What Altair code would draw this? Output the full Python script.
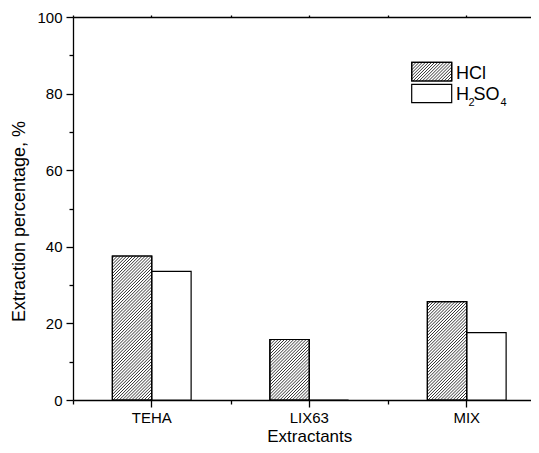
import altair as alt
import pandas as pd

# ---- data ----
extractants = ["TEHA", "LIX63", "MIX"]
acids = ["HCl", "H2SO4"]
hcl_values = [37.6, 15.8, 25.7]
h2so4_values = [33.6, 0.0, 17.6]
y_major = [0, 20, 40, 60, 80, 100]
y_minor = [10, 30, 50, 70, 90]

# ---- layout / style ----
PLOT_W = 458
PLOT_H = 383
BAND = 157.5
RANGE_W = BAND * len(extractants)
BAR_W = BAND / 4
PX_PER_UNIT = PLOT_H / 100.0
HATCH_P = 3.1          # horizontal spacing of hatch lines, px
FONT = "Liberation Sans"
INK = "#1a1a1a"


def hatch_lines(w, h, P=HATCH_P):
    """'////' lines inside a w x h box, local coords (u right, z up), px."""
    out = []
    c = -w + P / 2
    while c < h:
        u0 = max(0.0, -c)
        u1 = min(w, h - c)
        if u1 > u0:
            out.append((u0, u0 + c, u1, u1 + c))
        c += P
    return out


# hatch texture of the HCl bars, expressed in data units (category index, %)
hx, hy, hx2, hy2 = [], [], [], []
for i, v in enumerate(hcl_values):
    left = i + 0.25  # HCl bar occupies the second quarter of its band
    for u0, z0, u1, z1 in hatch_lines(BAR_W, v * PX_PER_UNIT):
        hx.append(left + u0 / BAND)
        hy.append(z0 / PX_PER_UNIT)
        hx2.append(left + u1 / BAND)
        hy2.append(z1 / PX_PER_UNIT)
hatch_df = pd.DataFrame({"hx": hx, "hy": hy, "hx2": hx2, "hy2": hy2})

df = pd.DataFrame({
    "Extractant": extractants * 2,
    "Acid": [acids[0]] * len(extractants) + [acids[1]] * len(extractants),
    "Value": hcl_values + h2so4_values,
})

x_scale = alt.Scale(domain=extractants, range=[0, RANGE_W], paddingInner=0, paddingOuter=0)
off_scale = alt.Scale(domain=acids, paddingInner=0, paddingOuter=1)
y_scale = alt.Scale(domain=[0, 100], nice=False)
hx_scale = alt.Scale(domain=[0, len(extractants)], range=[0, RANGE_W], nice=False, zero=False)

base = alt.Chart(df)

bars = base.mark_bar(fill="white", stroke="black", strokeWidth=1.2).encode(
    x=alt.X("Extractant:N", scale=x_scale, axis=alt.Axis(
        title="Extractants", orient="bottom", tickBand="center", tickSize=7,
        labelAngle=0, labelBaseline="alphabetic", labelPadding=15,
        titleX=RANGE_W / 2, titleY=41, titleBaseline="alphabetic", titleFontSize=17)),
    xOffset=alt.XOffset("Acid:N", scale=off_scale),
    y=alt.Y("Value:Q", scale=y_scale, axis=alt.Axis(
        values=y_major, tickSize=7, orient="left", labelPadding=4,
        title="Extraction percentage, %", titleX=-49, titleY=204,
        titleBaseline="alphabetic")),
)

hatch = alt.Chart(hatch_df).mark_rule(color=INK, strokeWidth=0.9).encode(
    x=alt.X("hx:Q", scale=hx_scale, axis=None),
    x2="hx2:Q",
    y=alt.Y("hy:Q", scale=y_scale, axis=None),
    y2="hy2:Q",
)

outline = base.transform_filter(alt.datum.Acid == acids[0]).mark_bar(
    fill=None, filled=False, stroke="black", strokeWidth=1.2
).encode(
    x=alt.X("Extractant:N", scale=x_scale, axis=None),
    xOffset=alt.XOffset("Acid:N", scale=off_scale),
    y=alt.Y("Value:Q", scale=y_scale, axis=None),
)

minor = base.mark_bar(opacity=0).encode(
    x=alt.X("Extractant:N", scale=x_scale, axis=alt.Axis(
        orient="bottom", title=None, labels=False, tickBand="extent", tickSize=4, domain=False)),
    y=alt.Y("Value:Q", scale=y_scale, axis=alt.Axis(
        values=y_minor, orient="left", title=None, labels=False, tickSize=4, domain=False)),
)

top1 = base.mark_bar(opacity=0).encode(
    x=alt.X("Extractant:N", scale=x_scale, axis=alt.Axis(
        orient="top", title=None, labels=False, tickBand="center", tickSize=2, domain=True)),
    y=alt.Y("Value:Q", scale=y_scale, axis=None),
)
top2 = base.mark_bar(opacity=0).encode(
    x=alt.X("Extractant:N", scale=x_scale, axis=alt.Axis(
        orient="top", title=None, labels=False, tickBand="extent", tickSize=2, domain=False)),
    y=alt.Y("Value:Q", scale=y_scale, axis=None),
)

# ---- legend (drawn by hand, pixel positions inside the plot) ----
LEG_X0, LEG_X1 = 338.7, 378.7
HCL_Y0, HCL_Y1 = 45.3, 64.0
SUL_Y0, SUL_Y1 = 67.3, 85.7

lx, ly, lx2, ly2 = [], [], [], []
for u0, z0, u1, z1 in hatch_lines(LEG_X1 - LEG_X0, HCL_Y1 - HCL_Y0):
    lx.append(LEG_X0 + u0)
    ly.append(HCL_Y1 - z0)
    lx2.append(LEG_X0 + u1)
    ly2.append(HCL_Y1 - z1)
leg_hatch_df = pd.DataFrame({"lx": lx, "ly": ly, "lx2": lx2, "ly2": ly2})

one = alt.Chart(pd.DataFrame({"k": [0]}))
leg_box1 = one.mark_rect(fill="white", stroke="black", strokeWidth=1.2).encode(
    x=alt.value(LEG_X0), x2=alt.value(LEG_X1), y=alt.value(HCL_Y0), y2=alt.value(HCL_Y1))
leg_hatch = alt.Chart(leg_hatch_df).mark_rule(color=INK, strokeWidth=0.9).encode(
    x=alt.X("lx:Q", scale=None, axis=None), x2="lx2:Q",
    y=alt.Y("ly:Q", scale=None, axis=None), y2="ly2:Q")
leg_box1b = one.mark_rect(fill=None, filled=False, stroke="black", strokeWidth=1.2).encode(
    x=alt.value(LEG_X0), x2=alt.value(LEG_X1), y=alt.value(HCL_Y0), y2=alt.value(HCL_Y1))
leg_box2 = one.mark_rect(fill="white", stroke="black", strokeWidth=1.2).encode(
    x=alt.value(LEG_X0), x2=alt.value(LEG_X1), y=alt.value(SUL_Y0), y2=alt.value(SUL_Y1))


def txt(s, x, y, size):
    return one.mark_text(align="left", baseline="alphabetic", font=FONT,
                         fontSize=size, color="black").encode(
        x=alt.value(x), y=alt.value(y), text=alt.value(s))


texts = [
    txt("HCl", 383, 61.5, 18),
    txt("H", 383, 83, 18),
    txt("2", 395.5, 89, 11),
    txt("SO", 400.5, 83, 18),
    txt("4", 427.5, 89, 11),
]

chart = alt.layer(
    bars, hatch, outline, minor, top1, top2,
    leg_box1, leg_hatch, leg_box1b, leg_box2, *texts
).properties(
    width=PLOT_W, height=PLOT_H,
    autosize=alt.AutoSizeParams(type="none"),
    padding={"left": 65, "top": 9, "right": 0, "bottom": 45},
).resolve_scale(
    x="independent", y="independent"
).resolve_axis(
    x="independent", y="independent"
).configure_view(
    stroke=None
).configure_axis(
    grid=False, domainColor="black", tickColor="black", domainWidth=1.3, tickWidth=1.3,
    labelColor="black", titleColor="black", labelFont=FONT, labelFontSize=15,
    titleFont=FONT, titleFontSize=18, titleFontWeight="normal",
)

chart.save("out.html", embed_options={"renderer": "svg", "actions": False})
